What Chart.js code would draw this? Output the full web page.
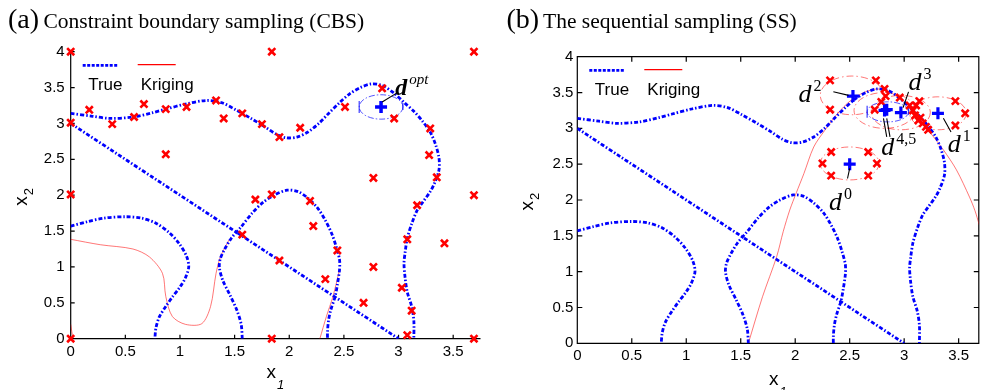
<!DOCTYPE html>
<html>
<head>
<meta charset="utf-8">
<script src="https://cdn.jsdelivr.net/npm/chart.js@4.4.0/dist/chart.umd.min.js"></script>
<style>
  html, body { margin: 0; padding: 0; background: #fff; }
  #wrap { position: relative; width: 988px; height: 390px; overflow: hidden; }
  #wrap canvas { position: absolute; top: 0; }
</style>
</head>
<body>
<div id="wrap">
  <canvas id="cbs" width="490" height="390" style="left:0"></canvas>
  <canvas id="ss" width="498" height="390" style="left:490px"></canvas>
</div>
<script>
// --- values ---

const xTickVals = [0, 0.5, 1, 1.5, 2, 2.5, 3, 3.5];
const yTickVals = [0, 0.5, 1, 1.5, 2, 2.5, 3, 3.5, 4];

// true constraint boundaries (same in both panels)
const trueTop = [[0,3.14],[0.2,3.10],[0.36,3.07],[0.57,3.09],[0.75,3.15],[0.87,3.20],[1.05,3.27],[1.24,3.32],
  [1.38,3.29],[1.51,3.19],[1.65,3.07],[1.78,2.95],[1.88,2.85],[1.97,2.80],[2.07,2.81],[2.17,2.88],[2.27,3.00],
  [2.36,3.14],[2.46,3.29],[2.55,3.41],[2.65,3.50],[2.75,3.55],[2.85,3.53],[2.96,3.42],[3.06,3.28],[3.14,3.17],
  [3.22,3.03],[3.29,2.88],[3.34,2.70],[3.37,2.52],[3.37,2.35],[3.33,2.17],[3.29,2.05],[3.22,1.90],[3.17,1.79],
  [3.12,1.60],[3.08,1.40],[3.06,1.20],[3.05,1.05],[3.06,0.85],[3.08,0.65],[3.12,0.45],[3.14,0.25],[3.14,0]];
const trueDiag = [[0,3],[3,0]];
const trueLeft = [[0,1.57],[0.15,1.63],[0.3,1.68],[0.5,1.70],[0.65,1.68],[0.78,1.61],[0.9,1.48],[0.99,1.33],
  [1.06,1.15],[1.08,1.0],[1.05,0.85],[1.0,0.72],[0.93,0.58],[0.87,0.45],[0.81,0.3],[0.78,0.15],[0.77,0]];
const trueArch = [[1.57,0],[1.56,0.2],[1.52,0.4],[1.46,0.6],[1.39,0.82],[1.36,1.0],[1.37,1.12],[1.41,1.25],
  [1.47,1.4],[1.56,1.56],[1.66,1.75],[1.76,1.9],[1.86,2.0],[1.98,2.07],[2.08,2.05],[2.17,1.96],[2.26,1.82],
  [2.33,1.65],[2.39,1.46],[2.43,1.28],[2.46,1.1],[2.46,0.96],[2.44,0.75],[2.42,0.59],[2.38,0.40],[2.36,0.26],
  [2.35,0.1],[2.35,0]];

// kriging boundaries
const krigA1 = [[0,1.385],[0.27,1.31],[0.57,1.25],[0.72,1.14],[0.84,0.91],[0.87,0.59],[0.93,0.31],[1.05,0.2],
  [1.20,0.21],[1.28,0.45],[1.33,0.91],[1.37,1.14],[1.45,1.38]];
const krigA2 = [[2.28,0],[2.34,0.31],[2.40,0.59],[2.46,0.96]];
const krigA3 = [[0.0,0.2],[0.02,0]];
const krigB = [[1.57,0],[1.70,0.65],[1.83,1.21],[1.89,1.56],[1.95,1.86],[2.01,2.10],[2.08,2.37],[2.17,2.74],
  [2.27,2.97],[2.39,3.21],[2.51,3.39],[2.63,3.50],[2.76,3.55],[2.90,3.48],[3.02,3.35],[3.10,3.22],[3.17,3.07],
  [3.27,2.88],[3.36,2.70],[3.48,2.42],[3.60,2.04],[3.65,1.85],[3.69,1.65]];

// sample points
const samplesA = [[0,4],[1.84,4],[3.69,4],[2.85,3.49],[0.17,3.19],[0,3.01],[0.38,2.99],[0.58,3.09],[0.67,3.27],
  [0.87,3.20],[1.06,3.23],[1.33,3.32],[1.40,3.07],[1.57,3.14],[1.75,2.99],[1.91,2.81],[2.10,2.94],[2.51,3.23],
  [2.96,3.07],[3.29,2.93],[3.28,2.56],[3.35,2.25],[2.77,2.24],[0.87,2.57],[0,2.01],[3.69,2.0],[1.69,1.94],
  [1.84,2.01],[2.19,1.92],[3.17,1.86],[2.22,1.57],[1.57,1.45],[3.08,1.385],[3.42,1.33],[2.44,1.23],[1.91,1.09],
  [2.77,1.0],[2.33,0.83],[2.68,0.50],[3.03,0.71],[3.12,0.39],[3.08,0.05],[1.84,0],[0,0],[3.69,0]];
const samplesB = [[2.33,2.67],[2.67,2.67],[2.25,2.51],[2.75,2.51],[2.33,2.34],[2.67,2.34],
  [2.32,3.67],[2.74,3.67],[2.32,3.26],[2.73,3.26],[2.83,3.45],[2.82,3.55],[2.96,3.43],[2.79,3.37],
  [3.05,3.32],[3.08,3.25],[3.11,3.32],[3.10,3.18],[3.13,3.11],[3.15,3.15],[3.17,3.07],[3.20,3.02],[3.22,2.98],
  [3.14,3.38],[3.47,3.38],[3.56,3.21],[3.47,3.04]];

// optimum and iterates
const dOptA = [[2.84,3.23]];
const dIterB = [[2.5,2.5],[3.31,3.21],[2.53,3.45],[2.97,3.22],[2.82,3.25],[2.84,3.26]];

// local sampling regions: centre x, centre y, half width, half height
const regionsA = [[2.84,3.23,0.2,0.17]];
const regionsB = [[2.50,2.51,0.27,0.23],[2.52,3.46,0.29,0.27],[2.82,3.25,0.28,0.25],[2.97,3.22,0.27,0.24],[3.31,3.21,0.26,0.23]];
const regionsBlueB = [[2.85,3.23,0.19,0.14]];

// annotations: text, superscript, x, y  /  leader lines x1,y1,x2,y2
const notesA = [['d','opt',2.97,3.40]];
const notesB = [['d','0',2.31,1.86],['d','1',3.40,2.67],['d','2',2.03,3.37],['d','3',3.04,3.53],['d','4,5',2.79,2.63]];
const leadersA = [[2.85,3.30,2.99,3.43]];
const leadersB = [[2.50,2.44,2.48,2.30],[3.36,3.14,3.43,2.95],[2.35,3.51,2.49,3.46],[3.04,3.51,2.99,3.29],
  [2.81,3.14,2.84,2.88],[2.84,3.14,2.87,2.88]];

// --- drawing ---

const BLUE = '#0000ff', RED = '#ff0000';
const SANS = '"Liberation Sans", Arial, sans-serif';
const SERIF = '"Liberation Serif", "Times New Roman", serif';
const TRUE_DASH = [4, 2, 1.5, 2];

const pts = a => a.map(([x, y]) => ({x, y}));

function trueLine(d) {
  return {data: pts(d), showLine: true, pointRadius: 0, borderColor: BLUE, borderWidth: 2.8,
          borderDash: TRUE_DASH, tension: 0.3, order: 1};
}
function krigLine(d) {
  return {data: pts(d), showLine: true, pointRadius: 0, borderColor: 'rgba(255,0,0,0.6)', borderWidth: 0.9,
          tension: 0.3, order: 2};
}
function marks(d, style, r, w) {
  return {data: pts(d), showLine: false, pointStyle: style, pointRadius: r, borderWidth: w,
          borderColor: style === 'cross' ? BLUE : RED, backgroundColor: 'transparent', clip: false, order: 0};
}

const decor = {
  id: 'decor',
  beforeDatasetsDraw(chart, args, o) {
    const {ctx, chartArea: a} = chart;
    const xs = chart.scales.x, ys = chart.scales.y;
    ctx.save();
    // axes + inward ticks
    ctx.strokeStyle = '#000';
    ctx.lineWidth = 1.2;
    ctx.setLineDash([]);
    ctx.beginPath();
    if (o.box) {
      ctx.rect(a.left, a.top, a.right - a.left, a.bottom - a.top);
    } else {
      ctx.moveTo(a.left, a.top); ctx.lineTo(a.left, a.bottom); ctx.lineTo(a.right, a.bottom);
    }
    const tl = o.box ? 5 : 4;
    xs.ticks.forEach(t => {
      const p = xs.getPixelForValue(t.value);
      ctx.moveTo(p, a.bottom); ctx.lineTo(p, a.bottom - tl);
      if (o.box) { ctx.moveTo(p, a.top); ctx.lineTo(p, a.top + tl); }
    });
    ys.ticks.forEach(t => {
      const p = ys.getPixelForValue(t.value);
      ctx.moveTo(a.left, p); ctx.lineTo(a.left + tl, p);
      if (o.box) { ctx.moveTo(a.right, p); ctx.lineTo(a.right - tl, p); }
    });
    ctx.stroke();

    // local sampling regions
    const ell = (list, color, dash, lw, endMarks) => {
      list.forEach(([cx, cy, rx, ry]) => {
        const px = xs.getPixelForValue(cx), py = ys.getPixelForValue(cy);
        const rpx = xs.getPixelForValue(cx + rx) - px, rpy = py - ys.getPixelForValue(cy + ry);
        ctx.strokeStyle = color; ctx.lineWidth = lw; ctx.setLineDash(dash);
        ctx.beginPath(); ctx.ellipse(px, py, rpx, rpy, 0, 0, Math.PI * 2); ctx.stroke();
        if (endMarks) {
          ctx.setLineDash([]); ctx.lineWidth = 1.2;
          ctx.beginPath();
          ctx.moveTo(px - rpx, py - 6); ctx.lineTo(px - rpx, py + 6);
          ctx.moveTo(px + rpx, py - 4); ctx.lineTo(px + rpx, py + 3);
          ctx.stroke();
        }
      });
    };
    ell(o.regions || [], 'rgba(255,0,0,0.6)', [7, 3, 1.5, 3], 0.9, false);
    ell(o.blueRegions || [], 'rgba(0,0,255,0.75)', [6, 2, 1.5, 2], 0.9, true);
    ctx.restore();
  },
  afterDatasetsDraw(chart, args, o) {
    const {ctx, chartArea: a} = chart;
    const xs = chart.scales.x, ys = chart.scales.y;
    ctx.save();
    ctx.fillStyle = '#000';
    ctx.textAlign = 'left';
    ctx.textBaseline = 'alphabetic';

    // leader lines
    ctx.strokeStyle = '#000'; ctx.lineWidth = 1.1; ctx.setLineDash([]);
    ctx.beginPath();
    o.leaders.forEach(([x1, y1, x2, y2]) => {
      ctx.moveTo(xs.getPixelForValue(x1), ys.getPixelForValue(y1));
      ctx.lineTo(xs.getPixelForValue(x2), ys.getPixelForValue(y2));
    });
    ctx.stroke();

    // d labels
    o.notes.forEach(([m, s, x, y]) => {
      const px = xs.getPixelForValue(x), py = ys.getPixelForValue(y);
      ctx.font = o.noteFont; ctx.fillText(m, px, py);
      const w = ctx.measureText(m).width;
      ctx.font = o.supFont; ctx.fillText(s, px + w + 2, py - o.supRise);
    });

    // legend
    ctx.strokeStyle = BLUE; ctx.lineWidth = 2.6; ctx.setLineDash([3, 1.5]);
    ctx.beginPath(); ctx.moveTo(a.left + 12, a.top + 13.7); ctx.lineTo(a.left + 48, a.top + 13.7); ctx.stroke();
    ctx.strokeStyle = RED; ctx.lineWidth = 1.2; ctx.setLineDash([]);
    ctx.beginPath(); ctx.moveTo(a.left + 67, a.top + 13); ctx.lineTo(a.left + 105, a.top + 13); ctx.stroke();
    ctx.font = '17px ' + SANS;
    ctx.fillText('True', a.left + 17.5, a.top + 38);
    ctx.fillText('Kriging', a.left + 70, a.top + 38);

    // axis titles
    const cx = (a.left + a.right) / 2;
    ctx.font = '19px ' + SANS;
    ctx.fillText('x', cx - 9, a.bottom + o.xTitleDy);
    const xw = ctx.measureText('x').width;
    ctx.font = 'italic 13px ' + SANS;
    ctx.fillText('1', cx - 9 + xw + 1, a.bottom + o.xTitleDy + 11);

    ctx.translate(a.left - 44, (a.top + a.bottom) / 2 + 2);
    ctx.rotate(-Math.PI / 2);
    ctx.font = '19px ' + SANS;
    ctx.fillText('x', -8.5, 0);
    ctx.font = '13px ' + SANS;
    ctx.fillText('2', -8.5 + xw + 1, 6);
    ctx.restore();

    // panel title
    ctx.save();
    ctx.fillStyle = '#000';
    ctx.textBaseline = 'alphabetic';
    ctx.font = '28px ' + SERIF;
    ctx.fillText(o.tag, o.tagX, 28);
    ctx.font = '21.5px ' + SERIF;
    ctx.fillText(o.title, o.titleX, 28);
    ctx.restore();
  }
};

function panel(id, o) {
  const tickFont = {family: SANS, size: 15};
  return new Chart(document.getElementById(id), {
    type: 'scatter',
    data: {datasets: o.datasets},
    options: {
      responsive: false,
      animation: false,
      events: [],
      layout: {padding: {left: 0, top: o.top, right: o.right, bottom: 0}},
      scales: {
        x: {
          type: 'linear', min: 0, max: o.xMax,
          grid: {display: false, drawTicks: false}, border: {display: false},
          ticks: {padding: 4, color: '#000', font: tickFont, callback: v => String(v)},
          afterBuildTicks: s => { s.ticks = xTickVals.map(v => ({value: v})); },
          afterFit: s => { s.height = o.xAxisH; }
        },
        y: {
          type: 'linear', min: 0, max: 4,
          grid: {display: false, drawTicks: false}, border: {display: false},
          ticks: {padding: o.yPad, color: '#000', font: tickFont, callback: v => String(v)},
          afterBuildTicks: s => { s.ticks = yTickVals.map(v => ({value: v})); },
          afterFit: s => { s.width = o.yAxisW; }
        }
      },
      plugins: {legend: {display: false}, tooltip: {enabled: false}, decor: o.decor}
    },
    plugins: [decor]
  });
}

// (a) constraint boundary sampling
panel('cbs', {
  xMax: 3.75, top: 51.7, right: 6.4, xAxisH: 51.3, yAxisW: 70.7, yPad: 6,
  datasets: [
    marks(dOptA, 'cross', 6, 3.5),
    marks(samplesA, 'crossRot', 5, 2.6),
    trueLine(trueTop), trueLine(trueDiag), trueLine(trueLeft), trueLine(trueArch),
    krigLine(krigA1), krigLine(krigA2), krigLine(krigA3)
  ],
  decor: {
    box: false, tag: '(a)', tagX: 8, title: 'Constraint boundary sampling (CBS)', titleX: 43.5,
    xTitleDy: 39.5, blueRegions: regionsA, regions: [],
    notes: notesA, leaders: leadersA,
    noteFont: 'italic bold 24px ' + SERIF, supFont: 'italic 15px ' + SERIF, supRise: 11
  }
});

// (b) sequential sampling
panel('ss', {
  xMax: 3.685, top: 56.7, right: 5, xAxisH: 46.7, yAxisW: 87.3, yPad: 4,
  datasets: [
    marks(dIterB, 'cross', 6, 3.2),
    marks(samplesB, 'crossRot', 5, 2.6),
    trueLine(trueTop), trueLine(trueDiag), trueLine(trueLeft), trueLine(trueArch),
    krigLine(krigB)
  ],
  decor: {
    box: true, tag: '(b)', tagX: 16.5, title: 'The sequential sampling (SS)', titleX: 53,
    xTitleDy: 42, blueRegions: regionsBlueB, regions: regionsB,
    notes: notesB, leaders: leadersB,
    noteFont: 'italic 26px ' + SERIF, supFont: '16px ' + SERIF, supRise: 11
  }
});
</script>
</body>
</html>
